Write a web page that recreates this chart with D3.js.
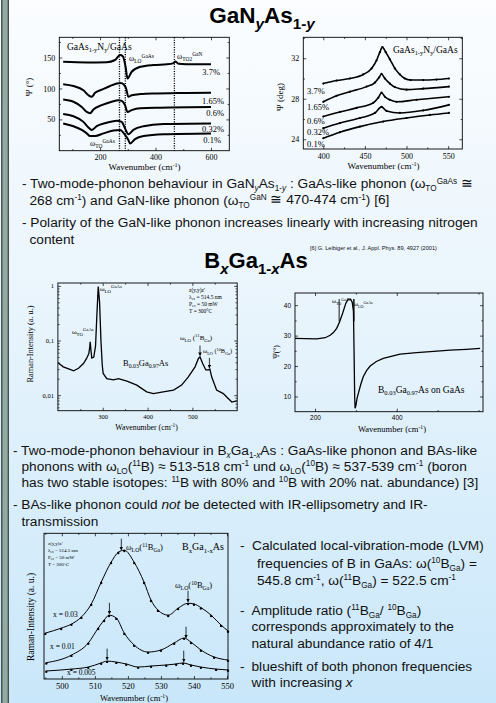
<!DOCTYPE html>
<html>
<head>
<meta charset="utf-8">
<script src="https://cdn.jsdelivr.net/npm/d3@7/dist/d3.min.js"></script>
<style>
  html, body { margin: 0; padding: 0; background: #fff; }
  svg { display: block; }
</style>
</head>
<body>
<svg id="slide" width="496" height="703"></svg>
<script>
// ---------- values ----------
// GaN_yAs_1-y, Ψ spectra 100-600 cm-1   [wavenumber, Ψ (°)]
const nLabels = ["3.7%", "1.65%", "0.6%", "0.32%", "0.1%"];
const wide37  = [[67,143],[152,142],[224,142.5],[254,146],[272,154],[282,152],[292,135],[299,116],[314,127],[345,135],[393,138],[441,139],[465,141],[471,143.5],[483,140],[537,139],[600,139]];
const wide165 = [[67,107],[104,104],[140,97],[158,89],[170,86.5],[182,93],[206,98],[236,104],[260,108],[275,109],[284,107],[294,100],[302,86.5],[314,89],[345,91],[393,92],[477,92.5],[600,93]];
const wide06  = [[67,82],[104,78.5],[134,70],[152,62],[164,60],[176,66],[206,73],[242,78.5],[266,81],[278,80],[290,73],[299,62],[314,65],[345,68],[417,69],[600,70]];
const wide032 = [[67,58.6],[104,55],[140,46],[158,37],[170,33],[188,39],[224,44.6],[260,48],[278,46],[290,35.5],[302,26],[320,33],[357,39],[429,42.5],[600,43.5]];
const wide01  = [[67,43.5],[104,39],[134,33],[152,27.4],[164,23],[182,23],[212,27.4],[248,32],[272,33],[290,25],[302,16.7],[308,11],[326,18],[357,23],[429,26],[600,27.4]];
const wideMarkers = [270, 291, 468];          // ωTO(GaAs), ωLO(GaAs), ωTO2(GaN)
const wideXTicks = [200, 400, 600];
const wideYTicks = [50, 100, 150];

// GaN_yAs_1-y, Ψ spectra 400-550 cm-1
const narrow37  = [[400,29.5],[416,29.8],[432,30.0],[448,30.4],[458,31.0],[464,31.8],[468,32.6],[471,33.1],[475,32.6],[480,31.9],[486,31.0],[492,30.4],[498,30.0],[505,29.85],[520,29.85],[536,29.9],[551,30.0]];
const narrow165 = [[400,27.7],[416,28.3],[432,28.7],[452,29.2],[462,29.6],[467,30.1],[470,30.45],[474,30.0],[480,29.5],[486,29.15],[500,28.9],[520,29.0],[551,29.2]];
const narrow06  = [[400,26.25],[420,26.7],[440,27.1],[460,27.6],[466,28.1],[470,28.6],[474,28.2],[480,27.9],[488,27.7],[512,27.9],[551,28.2]];
const narrow032 = [[400,25.1],[420,25.6],[444,26.1],[462,26.6],[470,27.2],[476,26.8],[492,26.6],[520,26.85],[551,27.4]];
const narrow01  = [[400,24.1],[420,24.7],[444,25.25],[472,25.75],[500,26.1],[528,26.4],[551,26.6]];
const narrowXTicks = [400, 450, 500, 550];
const narrowYTicks = [24, 28, 32];

// B_0.03Ga_0.97As Raman spectrum   [wavenumber, intensity (a.u.)]
const raman = [[201,0.039],[212,0.033],[227,0.0296],[235,0.028],[246,0.031],[257,0.038],[264,0.047],[269,0.058],[271,0.075],[272,0.095],[273.5,0.07],[275.5,0.048],[280,0.05],[284,0.08],[287,0.3],[290,0.97],[293,0.5],[296,0.1],[299,0.035],[301,0.025],[309,0.020],[324,0.019],[335,0.020],[354,0.018],[376,0.0153],[398,0.0115],[413,0.0107],[435,0.0115],[458,0.0124],[476,0.0153],[491,0.0217],[506,0.033],[513.5,0.047],[517,0.050],[523,0.038],[530,0.029],[536,0.029],[539,0.030],[543,0.0217],[554,0.0124],[569,0.0107],[580,0.0087],[588,0.0075],[599,0.0079]];
const ramanPeaks = [517, 538];                // ωLO(11B), ωLO(10B)
const ramanXTicks = [300, 400, 500];
const ramanYTicks = [1, 0.1, 0.01];
const ramanYLabels = ["1", "0,1", "0,01"];

// B_0.03Ga_0.97As on GaAs, Ψ spectrum   [wavenumber, Ψ (°)]
const psiB = [[151,29.1],[175,29.0],[204,28.9],[225,29.3],[237,30.1],[245,31],[253,32.4],[260,34.5],[268,37.5],[275,40.5],[281,42],[287,42],[291,41],[294,38],[295.5,25],[297,10],[298,6.1],[300,7],[303,9.5],[306,11],[312,14],[318,16.5],[326,18.5],[335,20],[350,21.5],[367,22.5],[408,23.9],[449,24.4],[490,24.8],[531,25.2],[570,25.5],[604,25.8]];
const psiMarkers = [259, 295];
const psiXTicks = [200, 400];
const psiYTicks = [10, 20, 30, 40];

// B_xGa_1-xAs LVM Raman bands   [wavenumber, intensity (a.u., offset)]
const lvmLabels = ["x = 0.03", "x = 0.01", "x = 0.005"];
const lvm003  = [[495,3.15],[499.8,3.49],[502.9,3.77],[505.9,4.25],[508.9,5.14],[511.9,6.64],[514.9,8.01],[517.1,8.7],[518.9,8.84],[521.9,8.01],[524.9,6.64],[527,5.41],[529.1,4.73],[532.2,4.38],[535.2,4.86],[538.2,5.2],[540,5.15],[542.1,4.9],[545.2,4.38],[548.2,3.7],[550.3,3.3]];
const lvm001  = [[495.3,1.12],[502.9,1.64],[508,2.47],[511,3.49],[512.8,4.04],[514.3,4.38],[516.5,4.18],[518.9,3.15],[521.9,2.33],[526.1,1.85],[530,1.99],[534,2.47],[537,2.81],[539.1,2.53],[542.1,1.99],[546.1,1.51],[550.3,1.3]];
const lvm0005 = [[495.3,0.55],[502.9,0.68],[508,0.82],[511.9,1.1],[513.7,1.23],[516.5,1.16],[519.5,1.03],[523.1,0.82],[527,0.89],[531.6,0.96],[534.6,1.03],[536.7,1.1],[539.1,0.96],[542.1,0.82],[546.7,0.68],[550.3,0.62]];
const lvmPeak11 = [518, 514.4, 513.7];
const lvmPeak10 = [538.2, 537.6, 536.9];
const lvmXTicks = [500, 510, 520, 530, 540, 550];

// ---------- helpers ----------
const sans = "'Liberation Sans', Arial, sans-serif";
const serif = "'Liberation Serif', 'Times New Roman', serif";
const svg = d3.select("#slide");

// mini markup: _{sub} ^{sup} _*{italic sub} *{italic}
function rich(sel, str, fs, scale, up, down) {
  const k = scale || 0.68;
  const parts = str.split(/([_^]\*?\{[^}]*\}|\*\{[^}]*\})/).filter(s => s !== "");
  let shift = 0;
  parts.forEach(p => {
    const m = p.match(/^([_^]?)(\*?)\{([^}]*)\}$/);
    let kind = "", ital = false, s = p;
    if (m && (m[1] || m[2])) { kind = m[1]; ital = m[2] === "*"; s = m[3]; }
    const off = kind === "_" ? down * fs : kind === "^" ? -up * fs : 0;
    const t = sel.append("tspan")
      .attr("dy", (off - shift).toFixed(2))
      .attr("font-size", kind ? fs * k : fs)
      .text(s);
    if (ital) t.attr("font-style", "italic");
    shift = off;
  });
  return sel;
}

function label(g, x, y, str, o = {}) {
  const fs = o.fs || 13.7;
  const body = !o.font && !o.weight;
  const t = g.append("text")
    .attr("x", x).attr("y", y)
    .attr("font-family", o.font || sans)
    .attr("font-size", fs)
    .attr("text-anchor", o.anchor || "start")
    .attr("fill", o.fill || "#111")
    .style("white-space", "pre");
  if (o.weight) t.attr("font-weight", o.weight);
  if (o.rotate) t.attr("transform", `rotate(-90,${x},${y})`);
  return rich(t, str, fs, o.scale || (body ? 0.6 : 0.68), body ? 0.32 : 0.36, body ? 0.22 : 0.26);
}

function frame(g, x, y, o) {
  const [xa, xb] = x.range(), [yb, yt] = y.range();
  const tk = o.tick || 3;
  const fx = o.xFormat || (d => d), fy = o.yFormat || (d => d);
  g.append("g").attr("transform", `translate(0,${yb})`)
    .call(d3.axisBottom(x).tickValues(o.xTicks).tickSize(-tk).tickPadding(o.xPad || 4).tickFormat(fx));
  g.append("g").attr("transform", `translate(0,${yt})`)
    .call(d3.axisTop(x).tickValues(o.xTicks).tickSize(-tk).tickFormat(""));
  g.append("g").attr("transform", `translate(${xa},0)`)
    .call(d3.axisLeft(y).tickValues(o.yTicks).tickSize(-tk).tickPadding(o.yPad || 4).tickFormat(fy));
  g.append("g").attr("transform", `translate(${xb},0)`)
    .call(d3.axisRight(y).tickValues(o.yTicks).tickSize(-tk).tickFormat(""));
  if (o.xMinor) {
    g.append("g").attr("transform", `translate(0,${yb})`)
      .call(d3.axisBottom(x).tickValues(o.xMinor).tickSize(-tk * 0.55).tickFormat(""));
    g.append("g").attr("transform", `translate(0,${yt})`)
      .call(d3.axisTop(x).tickValues(o.xMinor).tickSize(-tk * 0.55).tickFormat(""));
  }
  if (o.yMinor) {
    g.append("g").attr("transform", `translate(${xa},0)`)
      .call(d3.axisLeft(y).tickValues(o.yMinor).tickSize(-tk * 0.55).tickFormat(""));
    g.append("g").attr("transform", `translate(${xb},0)`)
      .call(d3.axisRight(y).tickValues(o.yMinor).tickSize(-tk * 0.55).tickFormat(""));
  }
  g.selectAll(".domain").remove();
  g.selectAll(".tick line").attr("stroke", "#000").attr("stroke-width", 0.7);
  g.selectAll(".tick text").attr("fill", "#000").attr("font-family", o.font || serif).attr("font-size", o.fs);
  g.append("rect")
    .attr("x", xa).attr("y", yt).attr("width", xb - xa).attr("height", yb - yt)
    .attr("fill", "none").attr("stroke", "#000").attr("stroke-width", 0.9);
}

function valAt(data, wn) {
  const i = d3.bisector(d => d[0]).left(data, wn);
  if (i <= 0) return data[0][1];
  if (i >= data.length) return data[data.length - 1][1];
  const a = data[i - 1], b = data[i];
  return a[1] + (b[1] - a[1]) * (wn - a[0]) / (b[0] - a[0]);
}

function arrow(g, x, yTip, len) {
  g.append("line").attr("x1", x).attr("x2", x).attr("y1", yTip - len).attr("y2", yTip)
    .attr("stroke", "#000").attr("stroke-width", 0.8).attr("marker-end", "url(#arr)");
}

// ---------- background ----------
const defs = svg.append("defs");
const grad = defs.append("linearGradient").attr("id", "bg").attr("x1", 0).attr("y1", 0).attr("x2", 0).attr("y2", 1);
grad.append("stop").attr("offset", "0%").attr("stop-color", "#fbfdff");
grad.append("stop").attr("offset", "45%").attr("stop-color", "#e8f4fc");
grad.append("stop").attr("offset", "100%").attr("stop-color", "#c9e7fa");
defs.append("marker").attr("id", "arr").attr("viewBox", "0 0 6 6")
  .attr("refX", 5).attr("refY", 3).attr("markerWidth", 4.5).attr("markerHeight", 4.5).attr("orient", "auto")
  .append("path").attr("d", "M0,0L6,3L0,6Z").attr("fill", "#000");

svg.append("rect").attr("width", 496).attr("height", 703).attr("fill", "url(#bg)");
svg.append("rect").attr("x", 1).attr("y", 0).attr("width", 8).attr("height", 703).attr("fill", "#93aaa2");
svg.append("line").attr("x1", 1.8).attr("x2", 1.8).attr("y1", 0).attr("y2", 703).attr("stroke", "#3f4b47").attr("stroke-width", 1.3);
svg.append("line").attr("x1", 8.3).attr("x2", 8.3).attr("y1", 0).attr("y2", 703).attr("stroke", "#3f4b47").attr("stroke-width", 1.3);

// ---------- titles ----------
label(svg, 262, 23, "GaN_*{y}As_{1-}_*{y}", { fs: 22.5, weight: "bold", anchor: "middle", fill: "#000" });
label(svg, 256, 268, "B_*{x}Ga_{1-}_*{x}As", { fs: 22, weight: "bold", anchor: "middle", fill: "#000" });

// ---------- chart 1: Ψ 100-600 ----------
const g1 = svg.append("g");
const x1 = d3.scaleLinear().domain([53, 666]).range([59.3, 229.3]);
const y1 = d3.scaleLinear().domain([-0.6, 182.7]).range([150.7, 37.3]);
frame(g1, x1, y1, { xTicks: wideXTicks, yTicks: wideYTicks, xMinor: [100, 300, 500], yMinor: [25, 75, 125, 175], tick: 3, fs: 8 });
g1.selectAll(".mk").data(wideMarkers).join("line")
  .attr("x1", d => x1(d)).attr("x2", d => x1(d))
  .attr("y1", y1.range()[1]).attr("y2", y1.range()[0])
  .attr("stroke", "#000").attr("stroke-width", 1.3).attr("stroke-dasharray", "1.1,1.3");
const line1 = d3.line().x(d => x1(d[0])).y(d => y1(d[1])).curve(d3.curveMonotoneX);
g1.selectAll(".c").data([wide37, wide165, wide06, wide032, wide01]).join("path")
  .attr("d", line1).attr("fill", "none").attr("stroke", "#000").attr("stroke-width", 2);
[[220, 75], [224, 104], [224, 115.5], [224, 131.5], [221, 142.5]].forEach((p, i) =>
  label(g1, p[0], p[1], nLabels[i], { font: serif, fs: 8.5, anchor: "end", fill: "#000" }));
label(g1, 67, 50, "GaAs_{1-y}N_{y}/GaAs", { font: serif, fs: 9.5, fill: "#000" });
label(g1, 129, 61, "ω_{LO}^{GaAs}", { font: serif, fs: 8, fill: "#000" });
label(g1, 177, 59, "ω_{TO2}^{GaN}", { font: serif, fs: 8, fill: "#000" });
label(g1, 90, 146, "ω_{TO}^{GaAs}", { font: serif, fs: 8, fill: "#000" });
label(g1, 32, 87, "Ψ (°)", { font: serif, fs: 9, anchor: "middle", rotate: true, fill: "#000" });
label(g1, 144.5, 170, "Wavenumber (cm^{-1})", { font: serif, fs: 9, anchor: "middle", fill: "#000" });

// ---------- chart 2: Ψ 400-550 ----------
const g2 = svg.append("g");
const x2 = d3.scaleLinear().domain([376, 567]).range([303.3, 462.3]);
const y2 = d3.scaleLinear().domain([23.04, 34.07]).range([149, 37.3]);
frame(g2, x2, y2, { xTicks: narrowXTicks, yTicks: narrowYTicks, xMinor: [425, 475, 525], yMinor: [26, 30, 34], tick: 3, fs: 8 });
const line2 = d3.line().x(d => x2(d[0])).y(d => y2(d[1])).curve(d3.curveMonotoneX);
const narrowCurves = [narrow37, narrow165, narrow06, narrow032, narrow01];
g2.selectAll(".c").data(narrowCurves).join("path")
  .attr("d", line2).attr("fill", "none").attr("stroke", "#000").attr("stroke-width", 1.6);
g2.selectAll(".dots").data(narrowCurves).join("g")
  .selectAll("circle").data(d => d).join("circle")
  .attr("cx", d => x2(d[0])).attr("cy", d => y2(d[1])).attr("r", 1.1).attr("fill", "#000");
[93.5, 109.5, 124, 134.5, 147].forEach((yy, i) =>
  label(g2, 307, yy, nLabels[i], { font: serif, fs: 8.5, fill: "#000" }));
label(g2, 393, 53, "GaAs_{1-y}N_{y}/GaAs", { font: serif, fs: 9.5, fill: "#000" });
label(g2, 283, 97, "Ψ (deg)", { font: serif, fs: 9, anchor: "middle", rotate: true, fill: "#000" });
label(g2, 383.5, 169, "Wavenumber (cm^{-1})", { font: serif, fs: 9, anchor: "middle", fill: "#000" });

// ---------- text, upper part ----------
label(svg, 22, 188, "- Two-mode-phonon behaviour in GaN_*{y}As_{1-}_*{y} : GaAs-like phonon (ω_{TO}^{GaAs} ≅");
label(svg, 29.5, 204.5, "268 cm^{-1}) and GaN-like phonon (ω_{TO}^{GaN} ≅ 470-474 cm^{-1}) [6]");
label(svg, 22, 227, "- Polarity of the GaN-like phonon increases linearly with increasing nitrogen");
label(svg, 29.5, 243.5, "content");
label(svg, 310, 250, "[6] G. Leibiger et al., J. Appl. Phys. 89, 4927 (2001)", { fs: 5.6 });

// ---------- chart 3: Raman, log scale ----------
const g3 = svg.append("g");
const x3 = d3.scaleLinear().domain([200, 600]).range([57.9, 237.2]);
const y3 = d3.scaleLog().domain([0.0052, 1.13]).range([410.7, 283]);
const ramanMinor = [2, 3, 4, 5, 6, 7, 8, 9].flatMap(k => [k * 0.001, k * 0.01, k * 0.1]).filter(v => v > 0.0052 && v < 1.13);
frame(g3, x3, y3, {
  xTicks: ramanXTicks, yTicks: ramanYTicks, xMinor: [250, 350, 450, 550], yMinor: ramanMinor,
  yFormat: d => ramanYLabels[ramanYTicks.indexOf(d)], tick: 3, fs: 6.5
});
g3.append("path").datum(raman)
  .attr("d", d3.line().x(d => x3(d[0])).y(d => y3(d[1])))
  .attr("fill", "none").attr("stroke", "#000").attr("stroke-width", 1.3);
ramanPeaks.forEach(wn => arrow(g3, x3(wn), y3(valAt(raman, wn)) - 1.5, 10));
label(g3, 72, 334, "ω_{TO}^{GaAs}", { font: serif, fs: 7, fill: "#000" });
label(g3, 100, 291, "ω_{LO}^{GaAs}", { font: serif, fs: 7, fill: "#000" });
["z(y,y)z'", "λ_{ex} = 514.5 nm", "P_{ex} = 50 mW", "T = 300°C"].forEach((s, i) =>
  label(g3, 189, 292 + i * 7, s, { font: serif, fs: 5.5, fill: "#000" }));
label(g3, 180, 340, "ω_{LO} (^{11}B_{Ga})", { font: serif, fs: 7, fill: "#000" });
label(g3, 203, 353, "ω_{LO} (^{10}B_{Ga})", { font: serif, fs: 6.3, fill: "#000" });
label(g3, 123, 366, "B_{0.03}Ga_{0.97}As", { font: serif, fs: 8.5, fill: "#000" });
label(g3, 33, 344, "Raman-Intensity (a. u.)", { font: serif, fs: 8.3, anchor: "middle", rotate: true, fill: "#000" });
label(g3, 146.5, 430, "Wavenumber (cm^{-1})", { font: serif, fs: 7.8, anchor: "middle", fill: "#000" });

// ---------- chart 4: Ψ of BGaAs on GaAs ----------
const g4 = svg.append("g");
const x4 = d3.scaleLinear().domain([151, 611]).range([295, 483]);
const y4 = d3.scaleLinear().domain([5, 44]).range([411.7, 293]);
frame(g4, x4, y4, {
  xTicks: psiXTicks, yTicks: psiYTicks, xMinor: [300, 500, 600], yMinor: [15, 25, 35],
  font: sans, tick: 3, fs: 6.5
});
g4.append("path").datum(psiB)
  .attr("d", d3.line().x(d => x4(d[0])).y(d => y4(d[1])))
  .attr("fill", "none").attr("stroke", "#000").attr("stroke-width", 1.3);
psiMarkers.forEach((wn, i) =>
  g4.append("line").attr("x1", x4(wn)).attr("x2", x4(wn)).attr("y1", y4(42)).attr("y2", y4(34.6))
    .attr("stroke", "#000").attr("stroke-width", i ? 1.4 : 0.9));
label(g4, 332, 303, "ω_{TO}^{GaAs}", { font: serif, fs: 6, fill: "#000" });
label(g4, 354, 306, "ω_{LO}^{GaAs}", { font: serif, fs: 6, fill: "#000" });
label(g4, 378, 393, "B_{0.03}Ga_{0.97}As on GaAs", { font: serif, fs: 9.5, fill: "#000" });
label(g4, 279, 352, "Ψ(°)", { font: serif, fs: 7.5, anchor: "middle", rotate: true, fill: "#000" });
label(g4, 392, 432, "Wavenumber (cm^{-1})", { font: serif, fs: 8.5, anchor: "middle", fill: "#000" });

// ---------- text, middle part ----------
label(svg, 13, 454.5, "- Two-mode-phonon behaviour in B_*{x}Ga_{1-}_*{x}As : GaAs-like phonon and BAs-like");
label(svg, 21.5, 470.5, "phonons with ω_{LO}(^{11}B) ≈ 513-518 cm^{-1} und ω_{LO}(^{10}B) ≈ 537-539 cm^{-1} (boron");
label(svg, 21.5, 486.5, "has two stable isotopes: ^{11}B with 80% and ^{10}B with 20% nat. abundance) [3]");
label(svg, 13, 508.5, "- BAs-like phonon could *{not} be detected with IR-ellipsometry and IR-");
label(svg, 21.5, 525.5, "transmission");

// ---------- chart 5: LVM bands ----------
const g5 = svg.append("g");
const x5 = d3.scaleLinear().domain([494.6, 550.3]).range([44, 228]);
const y5 = d3.scaleLinear().domain([0, 10]).range([679, 533.3]);
frame(g5, x5, y5, {
  xTicks: lvmXTicks, yTicks: [], xMinor: [495, 505, 515, 525, 535, 545], tick: 3, fs: 8.5
});
const lvmCurves = [lvm003, lvm001, lvm0005];
const line5 = d3.line().x(d => x5(d[0])).y(d => y5(d[1])).curve(d3.curveMonotoneX);
g5.selectAll(".c").data(lvmCurves).join("path")
  .attr("d", line5).attr("fill", "none").attr("stroke", "#000").attr("stroke-width", 1);
g5.selectAll(".dots").data(lvmCurves).join("g")
  .selectAll("circle").data(d => d).join("circle")
  .attr("cx", d => x5(d[0])).attr("cy", d => y5(d[1]) + 0.8).attr("r", 1.2).attr("fill", "#000");
lvmCurves.forEach((c, i) => {
  arrow(g5, x5(lvmPeak11[i]), y5(valAt(c, lvmPeak11[i])) - 1.5, 11);
  arrow(g5, x5(lvmPeak10[i]), y5(valAt(c, lvmPeak10[i])) - 1.5, 11);
});
["z(y,y)z'", "λ_{ex} = 514.5 nm", "P_{ex} = 50 mW", "T = 300°C"].forEach((s, i) =>
  label(g5, 48, 545 + i * 7, s, { font: serif, fs: 5, fill: "#000" }));
label(g5, 126, 550, "ω_{LO}(^{11}B_{Ga})", { font: serif, fs: 8.5, fill: "#000" });
label(g5, 182, 550, "B_{x}Ga_{1-x}As", { font: serif, fs: 10, fill: "#000" });
label(g5, 175, 588, "ω_{LO}(^{10}B_{Ga})", { font: serif, fs: 8.5, fill: "#000" });
[[53, 617], [50, 649], [67, 675]].forEach((p, i) =>
  label(g5, p[0], p[1], lvmLabels[i], { font: serif, fs: 7.5, fill: "#000" }));
label(g5, 34, 617, "Raman-Intensity (a. u.)", { font: serif, fs: 9.5, anchor: "middle", rotate: true, fill: "#000" });
label(g5, 134, 701, "Wavenumber (cm^{-1})", { font: serif, fs: 8.5, anchor: "middle", fill: "#000" });

// ---------- text, lower right ----------
label(svg, 240, 549.5, "-");
label(svg, 252, 549.5, "Calculated local-vibration-mode (LVM)");
label(svg, 257, 567.5, "frequencies of B in GaAs: ω(^{10}B_{Ga}) =");
label(svg, 257, 584.5, "545.8 cm^{-1}, ω(^{11}B_{Ga}) = 522.5 cm^{-1}");
label(svg, 240, 614.5, "-");
label(svg, 251.5, 614.5, "Amplitude ratio (^{11}B_{Ga}/ ^{10}B_{Ga})");
label(svg, 251.5, 631, "corresponds approximately to the");
label(svg, 251.5, 648, "natural abundance ratio of 4/1");
label(svg, 240, 671, "-");
label(svg, 251.5, 671, "blueshift of both phonon frequencies");
label(svg, 251.5, 687, "with increasing *{x}");
</script>
</body>
</html>
